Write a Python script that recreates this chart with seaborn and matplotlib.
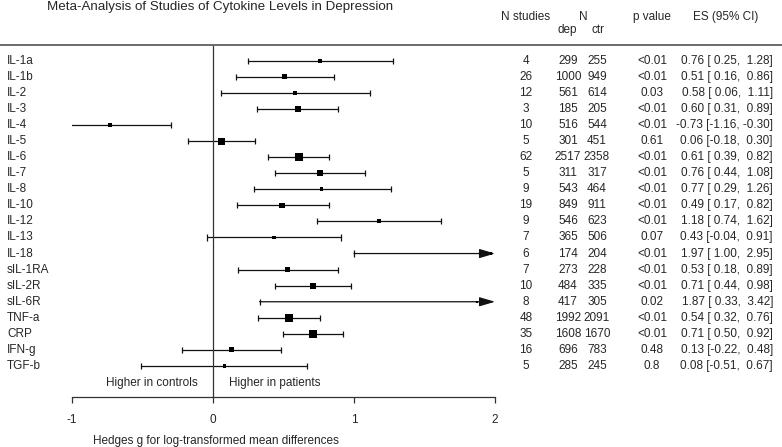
import matplotlib
matplotlib.use("Agg")
import matplotlib.pyplot as plt
import matplotlib.transforms as mtransforms
from matplotlib.lines import Line2D
import numpy as np
import pandas as pd
import seaborn as sns

# ---- data ----
cytokines = ["IL-1a", "IL-1b", "IL-2", "IL-3", "IL-4", "IL-5", "IL-6", "IL-7", "IL-8",
             "IL-10", "IL-12", "IL-13", "IL-18", "sIL-1RA", "sIL-2R", "sIL-6R",
             "TNF-a", "CRP", "IFN-g", "TGF-b"]
es = [0.76, 0.51, 0.58, 0.60, -0.73, 0.06, 0.61, 0.76, 0.77, 0.49, 1.18, 0.43,
      1.97, 0.53, 0.71, 1.87, 0.54, 0.71, 0.13, 0.08]
ci_lo = [0.25, 0.16, 0.06, 0.31, -1.16, -0.18, 0.39, 0.44, 0.29, 0.17, 0.74, -0.04,
         1.00, 0.18, 0.44, 0.33, 0.32, 0.50, -0.22, -0.51]
ci_hi = [1.28, 0.86, 1.11, 0.89, -0.30, 0.30, 0.82, 1.08, 1.26, 0.82, 1.62, 0.91,
         2.95, 0.89, 0.98, 3.42, 0.76, 0.92, 0.48, 0.67]
n_studies = [4, 26, 12, 3, 10, 5, 62, 5, 9, 19, 9, 7, 6, 7, 10, 8, 48, 35, 16, 5]
n_dep = [299, 1000, 561, 185, 516, 301, 2517, 311, 543, 849, 546, 365, 174, 273,
         484, 417, 1992, 1608, 696, 285]
n_ctr = [255, 949, 614, 205, 544, 451, 2358, 317, 464, 911, 623, 506, 204, 228,
         335, 305, 2091, 1670, 783, 245]
p_values = ["<0.01", "<0.01", "0.03", "<0.01", "<0.01", "0.61", "<0.01", "<0.01",
            "<0.01", "<0.01", "<0.01", "0.07", "<0.01", "<0.01", "<0.01", "0.02",
            "<0.01", "<0.01", "0.48", "0.8"]
x_ticks = [-1, 0, 1, 2]

title = "Meta-Analysis of Studies of Cytokine Levels in Depression"
x_label = "Hedges g for log-transformed mean differences"

df = pd.DataFrame({"cytokine": cytokines, "es": es, "lo": ci_lo, "hi": ci_hi,
                   "k": n_studies, "dep": n_dep, "ctr": n_ctr, "p": p_values})
df["row"] = np.arange(len(df))
# marker side shrinks with CI width (inverse-SE weighting), in pixels -> points
W, H = 782, 447
df["side_pt"] = (3.0 / (df["hi"] - df["lo"]) + 0.7) * 0.72
df["s"] = df["side_pt"] ** 2

sns.set_style("white")
plt.rcParams["font.family"] = ["Liberation Sans", "DejaVu Sans"]
FS = 8.5

fig = plt.figure(figsize=(W / 100, H / 100), dpi=100)

def fx(px):
    return px / W

def fy(py):
    return 1 - py / H

XMIN, XMAX = -1, 2
ax_left, ax_right = 72, 495
ax_top, ax_bot = 44.7, 396.7
ax = fig.add_axes([fx(ax_left), fy(ax_bot), fx(ax_right) - fx(ax_left), fy(ax_top) - fy(ax_bot)])
row0, rowstep = 60.7, 16.07
ax.set_xlim(XMIN, XMAX)
ax.set_ylim((ax_bot - row0) / rowstep, (ax_top - row0) / rowstep)
ax.patch.set_alpha(0)

lc = "#111111"
lw = 0.9
cap = 0.19
for _, r in df.iterrows():
    y = r["row"]
    if r["hi"] > XMAX:
        ax.annotate("", xy=(XMAX, y), xytext=(r["lo"], y),
                    arrowprops=dict(arrowstyle="-|>,head_length=0.95,head_width=0.28",
                                    mutation_scale=10, color=lc, lw=lw,
                                    shrinkA=0, shrinkB=0),
                    annotation_clip=False)
        ax.vlines(r["lo"], y - cap, y + cap, color=lc, lw=lw)
    else:
        ax.hlines(y, r["lo"], r["hi"], color=lc, lw=lw)
        ax.vlines([r["lo"], r["hi"]], y - cap, y + cap, color=lc, lw=lw)

sns.scatterplot(data=df, x="es", y="row", marker="s", color="black",
                s=df["s"].values, linewidth=0, ax=ax, legend=False, zorder=5,
                clip_on=False)

ax.axvline(0, color="#333333", lw=0.9)

for side in ["top", "right", "left"]:
    ax.spines[side].set_visible(False)
ax.spines["bottom"].set_color("#333333")
ax.spines["bottom"].set_linewidth(0.9)
ax.spines["bottom"].set_bounds(XMIN, XMAX)
ax.set_xticks(x_ticks)
ax.set_xticklabels([str(t) for t in x_ticks], fontsize=FS)
ax.tick_params(axis="x", direction="out", length=4.5, width=0.9, color="#333333",
               pad=8, bottom=True)
ax.set_yticks([])
ax.set_xlabel("")
ax.set_ylabel("")

# top rule across the whole figure
fig.add_artist(Line2D([0, 1], [fy(44.7), fy(44.7)], transform=fig.transFigure,
                      color="#6a6a6a", lw=1.4))

# title and headers
fig.text(fx(220), fy(1), title, ha="center", va="top", fontsize=9.6)
hy = fy(17)
fig.text(fx(526), hy, "N studies", ha="center", va="center", fontsize=FS)
fig.text(fx(583), hy, "N", ha="center", va="center", fontsize=FS)
fig.text(fx(567), fy(30), "dep", ha="center", va="center", fontsize=FS)
fig.text(fx(598), fy(30), "ctr", ha="center", va="center", fontsize=FS)
fig.text(fx(652), hy, "p value", ha="center", va="center", fontsize=FS)
fig.text(fx(726), hy, "ES (95% CI)", ha="center", va="center", fontsize=FS)

# row table
tr = mtransforms.blended_transform_factory(fig.transFigure, ax.transData)
for _, r in df.iterrows():
    y = r["row"]
    ax.text(fx(7), y, r["cytokine"], transform=tr, ha="left", va="center", fontsize=FS)
    ax.text(fx(526), y, str(r["k"]), transform=tr, ha="center", va="center", fontsize=FS)
    ax.text(fx(568), y, str(r["dep"]), transform=tr, ha="center", va="center", fontsize=FS)
    ax.text(fx(597), y, str(r["ctr"]), transform=tr, ha="center", va="center", fontsize=FS)
    ax.text(fx(652), y, r["p"], transform=tr, ha="center", va="center", fontsize=FS)
    es_txt = f"{r['es']:.2f} [{r['lo']:5.2f}, {r['hi']:5.2f}]"
    ax.text(fx(773), y, es_txt, transform=tr, ha="right", va="center", fontsize=FS)

# direction labels and axis label
fig.text(fx(198), fy(383), "Higher in controls", ha="right", va="center", fontsize=FS)
fig.text(fx(229), fy(383), "Higher in patients", ha="left", va="center", fontsize=FS)
fig.text(fx(93), fy(441), x_label, ha="left", va="center", fontsize=FS)

fig.savefig("out.png", dpi=100)
